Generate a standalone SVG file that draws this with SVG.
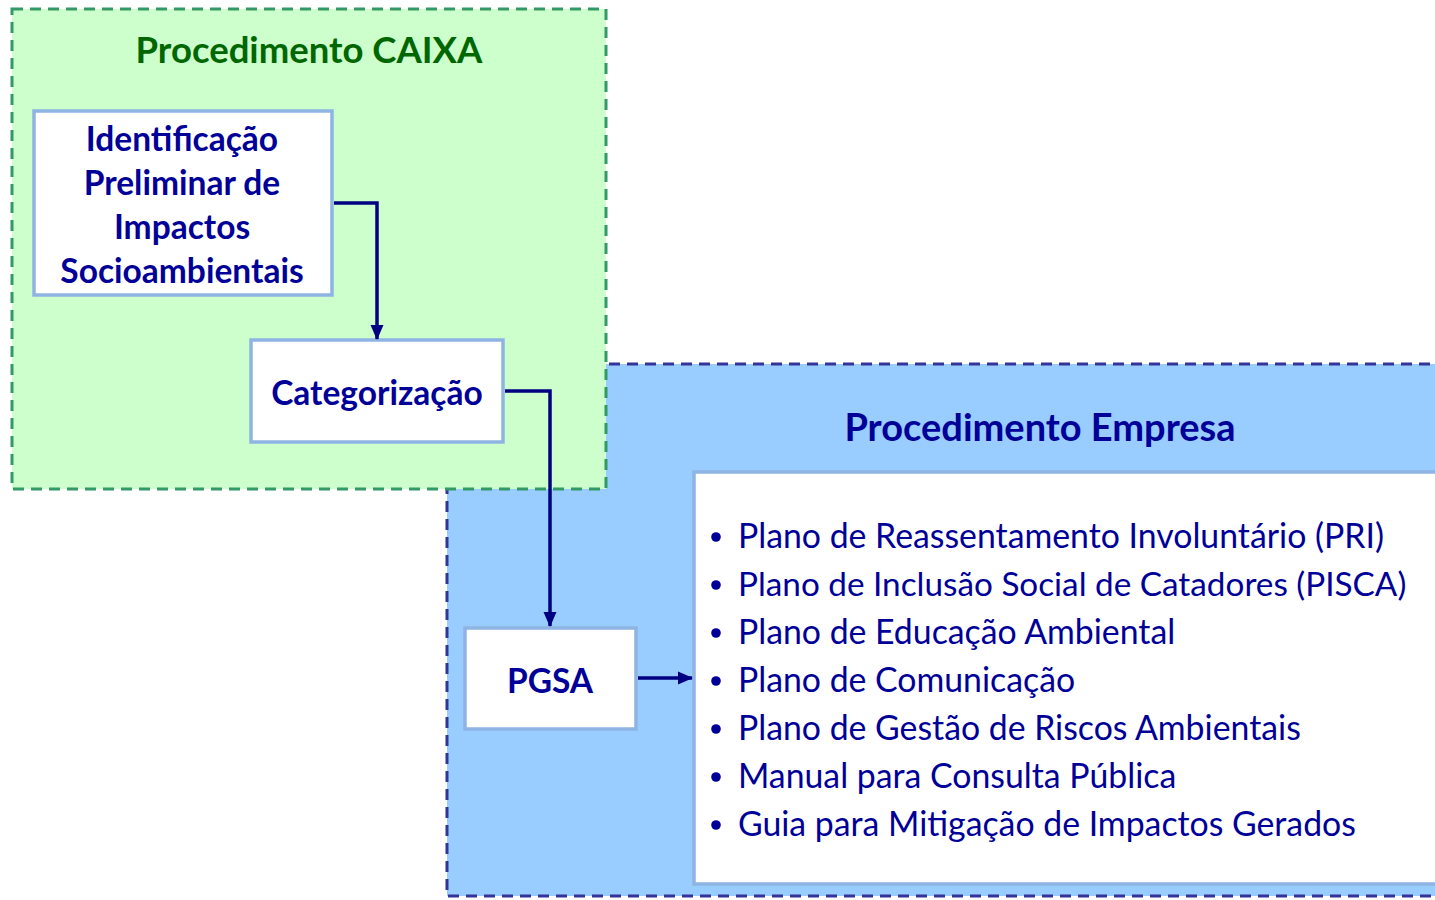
<svg xmlns="http://www.w3.org/2000/svg" width="1435" height="900" viewBox="0 0 1435 900">
<defs>
<marker id="arr" markerWidth="16" markerHeight="16" refX="14" refY="8" orient="auto" markerUnits="userSpaceOnUse">
<path d="M0,1.5 L15,8 L0,14.5 z" fill="#000080"/>
</marker>
<style>
.grp-green{fill:#CCFFCC;stroke:#339966;stroke-width:3;stroke-dasharray:11 7}
.grp-blue{fill:#99CCFF;stroke:#333399;stroke-width:3;stroke-dasharray:11 7}
.box{fill:#FFFFFF;stroke:#8EB4E3;stroke-width:3.5}
.t{font-family:"Lato","Open Sans","Liberation Sans",sans-serif;font-weight:bold;fill:#000099;text-anchor:middle}
.title{font-size:37px}
.node{font-size:33.5px}
.li{font-family:"Lato","Open Sans","Liberation Sans",sans-serif;font-size:33.8px;fill:#000099}
.conn{fill:none;stroke:#000080;stroke-width:3.5}
</style>
</defs>
<rect width="1435" height="900" fill="#FFFFFF"/>
<g id="grp-empresa">
<rect class="grp-blue" x="447" y="364" width="1000" height="532"/>
<text class="t title" x="1040" y="441" style="font-size:38px">Procedimento Empresa</text>
</g>
<g id="grp-caixa">
<rect class="grp-green" x="12" y="9" width="594" height="480"/>
<text class="t title" x="309" y="63" style="fill:#006600;font-size:36.5px">Procedimento CAIXA</text>
</g>
<g id="node-identificacao">
<rect class="box" x="34" y="111" width="298" height="184"/>
<text class="t node" x="182" y="151">Identificação</text>
<text class="t node" x="182" y="195">Preliminar de</text>
<text class="t node" x="182" y="239">Impactos</text>
<text class="t node" x="182" y="283">Socioambientais</text>
</g>
<g id="node-categorizacao">
<rect class="box" x="251" y="340" width="252" height="102"/>
<text class="t node" x="377" y="405">Categorização</text>
</g>
<g id="node-pgsa">
<rect class="box" x="465" y="628" width="171" height="101"/>
<text class="t node" x="550" y="693">PGSA</text>
</g>
<g id="node-planos">
<rect class="box" x="694" y="472" width="750" height="412"/>
<g class="li">
<circle cx="716" cy="537" r="4.8" fill="#000099"/>
<text x="738" y="548">Plano de Reassentamento Involuntário (PRI)</text>
<circle cx="716" cy="585" r="4.8" fill="#000099"/>
<text x="738" y="596" style="font-size:33.3px">Plano de Inclusão Social de Catadores (PISCA)</text>
<circle cx="716" cy="633" r="4.8" fill="#000099"/>
<text x="738" y="644">Plano de Educação Ambiental</text>
<circle cx="716" cy="681" r="4.8" fill="#000099"/>
<text x="738" y="692">Plano de Comunicação</text>
<circle cx="716" cy="729" r="4.8" fill="#000099"/>
<text x="738" y="740">Plano de Gestão de Riscos Ambientais</text>
<circle cx="716" cy="777" r="4.8" fill="#000099"/>
<text x="738" y="788">Manual para Consulta Pública</text>
<circle cx="716" cy="825" r="4.8" fill="#000099"/>
<text x="738" y="836">Guia para Mitigação de Impactos Gerados</text>
</g>
</g>
<g id="connectors">
<path class="conn" d="M334,203 H377 V339" marker-end="url(#arr)"/>
<path class="conn" d="M505,391 H550 V626" marker-end="url(#arr)"/>
<path class="conn" d="M638,678 H692" marker-end="url(#arr)"/>
</g>
</svg>
